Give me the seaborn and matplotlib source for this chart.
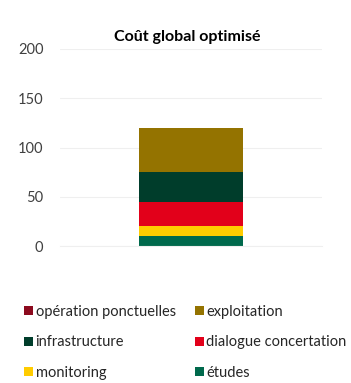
import matplotlib
matplotlib.use("Agg")
import matplotlib.pyplot as plt
import seaborn as sns
import pandas as pd
from matplotlib.patches import Patch

# Cost breakdown (stacked from bottom to top)
series = ["études", "monitoring", "dialogue concertation", "infrastructure",
          "exploitation", "opération ponctuelles"]
values = [10, 10, 25, 30, 45, 0]
colors = ["#00694C", "#FFCC00", "#E2001A", "#003D2B", "#947300", "#8C0A1E"]
category = ["Coût global optimisé"]
yticks = [0, 50, 100, 150, 200]

sns.set_theme(style="white")
plt.rcParams["font.family"] = ["Lato", "DejaVu Sans"]

fig = plt.figure(figsize=(3.51, 3.83), dpi=100)
W, H = 351, 383
ax = fig.add_axes([60 / W, 1 - 246 / H, (322 - 60) / W, (246 - 49) / H])

# cumulative tops, drawn tallest first so each shorter bar sits in front
tops = pd.Series(values).cumsum().tolist()
for name, top, col in reversed(list(zip(series, tops, colors))):
    df = pd.DataFrame({"cat": category, "val": [top]})
    sns.barplot(data=df, x="cat", y="val", color=col, width=0.4,
                saturation=1, ax=ax, linewidth=0)

ax.set_ylim(0, 200)
ax.set_xlim(-0.5, 0.5)
ax.set_yticks(yticks)
ax.set_yticklabels([str(t) for t in yticks], color="#404040", fontsize=10.5)
ax.tick_params(axis="y", length=0, pad=12)
ax.set_xticks([])
ax.set_xlabel("")
ax.set_ylabel("")
ax.yaxis.grid(True, color="#EFEFEF", linewidth=0.8)
ax.set_axisbelow(True)
for s in ["top", "right", "left"]:
    ax.spines[s].set_visible(False)
ax.spines["bottom"].set_color("#EFEFEF")
ax.spines["bottom"].set_linewidth(0.8)

fig.text(187 / W, 1 - 37 / H, "Coût global optimisé", ha="center", va="center",
         fontsize=11.5, fontweight="bold", color="#000000")

# legend in row-major order (two columns)
order = ["opération ponctuelles", "infrastructure", "monitoring",
         "exploitation", "dialogue concertation", "études"]
cmap = dict(zip(series, colors))
handles = [Patch(facecolor=cmap[n], edgecolor="none", label=n) for n in order]
fig.legend(handles=handles, ncol=2, loc="upper left",
           bbox_to_anchor=(24 / W, 1 - 305 / H), frameon=False,
           fontsize=10.5, handlelength=0.6, handleheight=0.6, handletextpad=0.2,
           columnspacing=1.3, labelspacing=1.12, labelcolor="#262626",
           borderaxespad=0, borderpad=0)

fig.savefig("out.png", dpi=100)
